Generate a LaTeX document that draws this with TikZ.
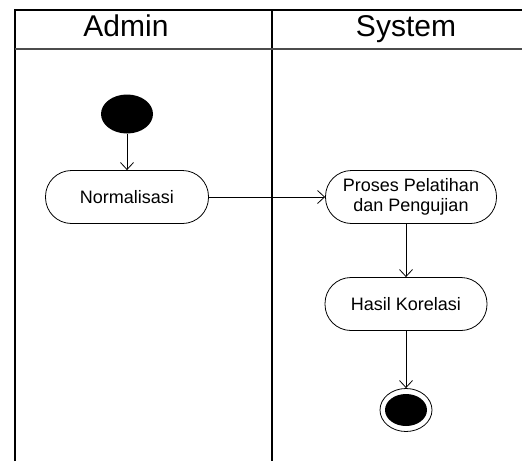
\documentclass[tikz,border=0pt]{standalone}
\usepackage{fontspec}
\setmainfont{Liberation Sans}
\usetikzlibrary{arrows.meta, positioning, shapes.geometric}
\tikzset{>/.tip={Straight Barb[length=7pt,width=13pt]}}
\tikzset{act/.style={draw, rounded corners=26pt, minimum height=53pt, align=center, font=\fontsize{18}{20}\selectfont, line width=0.8pt}}
\tikzset{lane/.style={line width=1.3pt}}

\begin{document}
\begin{tikzpicture}[x=1pt, y=-1pt]
\useasboundingbox (0,0) rectangle (522,461);
% swimlanes
\draw[lane] (15,461) -- (15,10) -- (522,10);
\draw[lane] (272,10) -- (272,461);
\draw[lane, black!70] (15,49) -- (522,49);
\node(admin) [anchor=base, font=\fontsize{30}{32}\selectfont] at (126,36) {Admin};
\node(system) [anchor=base, font=\fontsize{30}{32}\selectfont] at (406,36) {System};
% activities
\node(start) [ellipse, fill, inner sep=0, minimum width=52pt, minimum height=39pt] at (127,114) {};
\node(norm) [act, minimum width=163pt] at (127,197) {Normalisasi};
\node(proses) [act, minimum width=171pt] at (411,197) {Proses Pelatihan\\dan Pengujian};
\node(hasil) [act, minimum width=162pt] at (406,304) {Hasil Korelasi};
\node(final) [ellipse, draw, line width=0.8pt, inner sep=0, minimum width=52pt, minimum height=43pt] at (406,410) {};
\node(finalin) [ellipse, fill, inner sep=0, minimum width=42pt, minimum height=32pt] at (final) {};
\draw[->, line width=0.8pt] (start) -- (norm);
\draw[->, line width=0.8pt] (norm) -- (proses);
\draw[->, line width=0.8pt] (hasil.north |- proses.south) -- (hasil);
\draw[->, line width=0.8pt] (hasil) -- (final);
\end{tikzpicture}
\end{document}
